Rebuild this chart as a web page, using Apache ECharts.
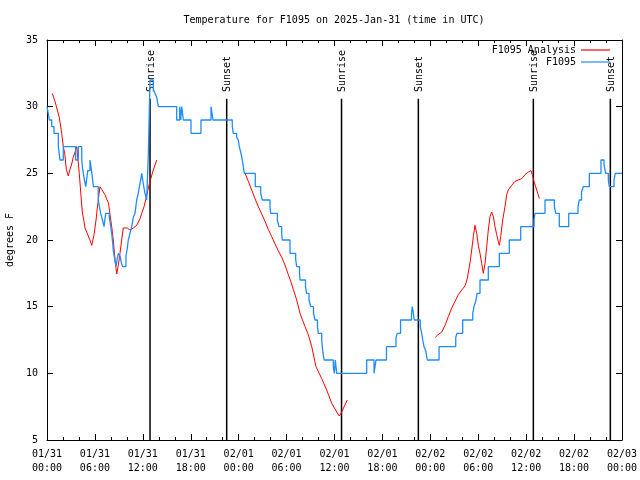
<!DOCTYPE html>
<html><head><meta charset="utf-8">
<script src="https://cdn.jsdelivr.net/npm/echarts@6/dist/echarts.min.js"></script>
<style>html,body{margin:0;padding:0;background:#fff}#c{width:640px;height:480px}</style>
</head><body><div id="c"></div>
<script>
const titleText = 'Temperature for F1095 on 2025-Jan-31 (time in UTC)';
const yAxisTitle = 'degrees F';
const xDateLabels = ['01/31','01/31','01/31','01/31','02/01','02/01','02/01','02/01','02/02','02/02','02/02','02/02','02/03'];
const xTimeLabels = ['00:00','06:00','12:00','18:00','00:00','06:00','12:00','18:00','00:00','06:00','12:00','18:00','00:00'];

// observations (hours since 01/31 00:00 UTC, deg F)
const obsHours = [0,0.13,0.29,0.59,0.88,1.42,1.63,2.04,3.59,3.92,4.35,4.47,4.55,4.72,4.85,5.10,5.38,5.57,5.70,5.80,6.42,6.57,6.72,6.95,7.14,7.35,7.80,7.98,8.10,8.23,8.30,8.48,8.64,8.77,8.93,9.14,9.35,9.48,9.89,10.06,10.18,10.39,10.61,10.81,11.02,11.23,11.43,11.56,11.73,11.86,12.06,12.27,12.48,12.69,12.90,13.31,13.52,13.74,13.94,16.24,16.62,16.74,16.87,17.07,18.03,19.28,20.54,20.79,23.20,23.33,23.75,23.95,24.08,24.29,24.46,24.58,24.71,26.08,26.76,26.96,27.92,28.01,28.84,29.05,29.39,29.46,30.43,31.14,31.27,31.62,31.68,32.37,32.50,32.81,33.02,33.37,33.56,33.87,33.97,34.40,34.50,34.69,35.85,35.98,36.10,36.28,40.03,40.95,41.20,42.51,43.70,43.86,44.27,45.64,45.74,45.99,46.74,46.92,47.05,47.21,47.42,47.62,49.09,51.18,51.34,52.05,53.31,53.47,53.72,53.85,54.22,55.26,56.64,57.89,59.32,60.98,61.11,62.36,63.53,63.70,64.15,65.33,66.49,66.66,66.93,67.16,67.91,69.37,69.75,69.96,70.29,70.41,71.00,71.16,72.0];
const obsTemps = [30,29.6,29,28.5,28,27,26,27,26,27,26,25.3,25,24.4,24,25.2,26,25.2,24.6,24,23,22.5,22,21.5,21,22,21.7,21,20.5,19.8,19.2,18.6,18,18.5,19,18.8,18.2,18,18.8,19.4,20,20.5,21,21.7,22,23,23.5,24,24.5,25,24.2,23.5,23,26.5,32,31.3,31,30.7,30,29,30,29,30,29,28,29,30,29,28.5,28,27.7,27.5,27,26.5,26,25.5,25,24,23.5,23,22.5,22,21.5,21,20.5,20,19,18.5,18,17.5,17,16.5,16,15.5,15,14.5,14,13.5,13,12.5,11.8,11,10.5,10,11,10,11,10,11,12,12.7,13,14,14.5,15,14,13.5,13,12.5,12,11.7,11,12,12.7,13,14,14.5,15,15.5,16,17,18,19,20,21,21.5,22,23,22.5,22,21,22,22.5,23,23.6,24,25,26,25.6,25,24.5,24,24.5,25,25];

// analysis (null = gap)
const anaHours = [0.66,1.00,1.29,1.54,1.84,2.04,2.22,2.42,2.67,2.88,3.09,3.29,3.51,3.72,3.84,4.04,4.22,4.42,4.63,4.76,4.97,5.17,5.38,5.60,5.72,5.89,6.14,6.30,6.42,6.64,6.85,7.05,7.26,7.48,7.68,7.76,7.89,8.10,8.30,8.52,8.64,8.73,8.93,9.14,9.35,9.55,9.77,10.06,10.39,10.61,10.81,11.23,11.65,11.86,12.15,12.40,12.69,12.90,13.31,13.74,
  19,
  24.79,25.21,25.63,26.05,26.46,26.89,27.30,27.71,28.14,28.55,28.96,29.39,29.68,29.93,30.22,30.52,30.84,31.27,31.68,32.31,32.72,33.15,33.68,34.40,35.02,35.65,36.28,36.60,36.90,37.60,
  43,
  48.62,48.96,49.43,49.84,50.25,50.68,51.09,51.50,51.93,52.34,52.63,52.76,52.97,53.18,53.38,53.59,53.81,54.01,54.22,54.43,54.63,54.85,55.06,55.26,55.47,55.69,55.89,56.10,56.31,56.51,56.64,56.81,57.06,57.35,57.56,57.76,58.19,58.60,59.02,59.44,59.86,60.27,60.61,60.77,60.98,61.32,61.65];
const anaTemps = [31,30.4,29.75,29.2,28,27,26.5,25.3,24.8,25.3,25.7,26.2,26.6,27,26.3,25,23.6,22.1,21.4,20.9,20.6,20.3,20,19.6,19.5,20.4,21.5,22.4,23,24,23.8,23.6,23.4,23.05,22.8,22.5,21.9,21,20,18.5,17.9,17.45,18.1,19,20,20.9,21,20.9,20.75,20.6,20.9,21.1,21.6,22,22.5,23.1,23.9,24.4,25.25,26,
  null,
  25,24.4,23.75,23.1,22.5,21.95,21.4,20.8,20.25,19.7,19.2,18.7,18.3,17.9,17.4,16.9,16.3,15.5,14.5,13.5,12.9,12,10.5,9.6,8.75,7.75,7.1,6.8,7.1,8,
  null,
  12.7,12.9,13.1,13.6,14.25,14.9,15.4,15.9,16.25,16.55,17.1,17.6,18.3,19.25,20.25,21.1,20.5,19.6,19,18.25,17.5,18.25,19.5,20.75,21.75,22.1,21.75,21,20.4,19.9,19.6,20.25,21.5,22.5,23.4,23.75,24.1,24.4,24.5,24.6,24.9,25.1,25.2,24.9,24.4,23.75,23.1];

const sunHours = [12.90, 22.50, 36.88, 46.50, 60.90, 70.54];
const sunLabels = ['Sunrise','Sunset','Sunrise','Sunset','Sunrise','Sunset'];
const sunLineTop = 30.6;
const sunLabelBase = 31.1;

const FONT = 'DejaVu Sans Mono';
const txt = {fontFamily: FONT, fontSize: 10, color: '#000'};

const chart = echarts.init(document.getElementById('c'), null, {renderer: 'canvas'});
const xCommon = {
  type: 'value', min: 0, max: 72, interval: 6,
  axisLine: {show: true, onZero: false, lineStyle: {color: '#000', width: 1}},
  axisTick: {show: true, inside: true, length: 6, lineStyle: {color: '#000'}},
  minorTick: {show: true, splitNumber: 3, length: 3, lineStyle: {color: '#000'}},
  splitLine: {show: false}, minorSplitLine: {show: false}
};
const yCommon = {
  type: 'value', min: 5, max: 35, interval: 5,
  axisLine: {show: true, onZero: false, lineStyle: {color: '#000', width: 1}},
  axisTick: {show: true, inside: true, length: 6, lineStyle: {color: '#000'}},
  splitLine: {show: false}
};
chart.setOption({
  animation: false,
  backgroundColor: '#fff',
  title: {text: titleText, left: 334, top: 15, padding: 0, textAlign: 'center',
    textStyle: {fontFamily: FONT, fontSize: 10, fontWeight: 'normal', color: '#000'}},
  legend: {
    data: ['F1095 Analysis', 'F1095'], orient: 'vertical', right: 30, top: 45, padding: 0,
    align: 'right', icon: 'rect', itemWidth: 29, itemHeight: 1.2, itemGap: 2,
    textStyle: txt
  },
  grid: {left: 47, right: 18, top: 40, bottom: 40, containLabel: false, outerBoundsMode: 'none'},
  xAxis: [
    Object.assign({}, xCommon, {position: 'bottom',
      axisLabel: {show: true, margin: 7, lineHeight: 14, fontFamily: FONT, fontSize: 10, color: '#000',
        formatter: function (v) { const i = Math.round(v / 6); return xDateLabels[i] + '\n' + xTimeLabels[i]; }}}),
    Object.assign({}, xCommon, {position: 'top', axisLabel: {show: false}})
  ],
  yAxis: [
    Object.assign({}, yCommon, {position: 'left', name: yAxisTitle, nameLocation: 'middle', nameRotate: 90, nameGap: 28,
      nameTextStyle: txt,
      axisLabel: {show: true, margin: 9, fontFamily: FONT, fontSize: 10, color: '#000'}}),
    Object.assign({}, yCommon, {position: 'right', axisLabel: {show: false}})
  ],
  series: [
    {
      type: 'custom', name: 'sun', silent: true, xAxisIndex: 0, yAxisIndex: 0,
      data: sunHours.map(function (h) { return [h, sunLineTop]; }),
      renderItem: function (params, api) {
        const h = api.value(0);
        const p0 = api.coord([h, 5]);
        const p1 = api.coord([h, sunLineTop]);
        const pt = api.coord([h, sunLabelBase]);
        return {type: 'group', children: [
          {type: 'line', shape: {x1: p0[0], y1: p0[1], x2: p1[0], y2: p1[1]}, style: {stroke: '#000', lineWidth: 1.5}},
          {type: 'text', x: pt[0] + 1, y: pt[1], rotation: Math.PI / 2,
            style: {text: sunLabels[params.dataIndex], fontFamily: FONT, fontSize: 10, fill: '#000', align: 'left', verticalAlign: 'middle'}}
        ]};
      }
    },
    {
      type: 'line', name: 'F1095 Analysis', showSymbol: false, symbol: 'none', connectNulls: false,
      data: anaHours.map(function (h, i) { return [h, anaTemps[i]]; }),
      lineStyle: {color: '#ff0000', width: 1}, itemStyle: {color: '#ff0000'}
    },
    {
      type: 'line', name: 'F1095', showSymbol: false, symbol: 'none', step: 'end',
      data: obsHours.map(function (h, i) { return [h, obsTemps[i]]; }),
      lineStyle: {color: '#1e8cff', width: 1.3}, itemStyle: {color: '#1e8cff'}
    }
  ]
});
</script></body></html>
